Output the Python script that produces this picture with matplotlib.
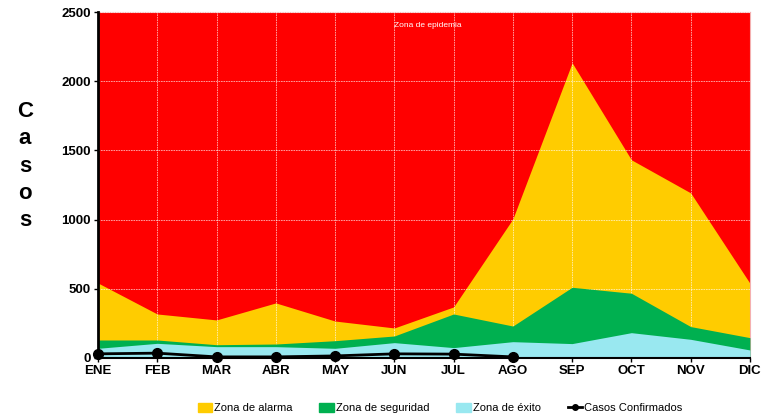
import matplotlib
matplotlib.use("Agg")
import matplotlib.pyplot as plt
from matplotlib.patches import Patch
from matplotlib.lines import Line2D
import numpy as np

meses = ["ENE", "FEB", "MAR", "ABR", "MAY", "JUN", "JUL", "AGO", "SEP", "OCT", "NOV", "DIC"]
zona_epidemia = [2500] * 12
zona_alarma = [542, 318, 275, 398, 267, 217, 369, 1005, 2133, 1432, 1193, 540]
zona_seguridad = [130, 130, 96, 101, 125, 159, 318, 231, 511, 468, 227, 147]
zona_exito = [70, 106, 82, 82, 70, 111, 75, 118, 104, 183, 135, 58]
casos_confirmados = [30, 35, 8, 8, 15, 30, 28, 8]

plt.rcParams['font.family'] = ['Liberation Sans Narrow', 'Liberation Sans', 'DejaVu Sans']

fig = plt.figure(figsize=(7.69, 4.17), dpi=100)
ax = fig.add_axes([0.1274, 0.1415, 0.8478, 0.8297])
x = np.arange(len(meses))

ax.fill_between(x, 0, zona_epidemia, color="#FF0000", lw=0, zorder=1)
ax.fill_between(x, 0, zona_alarma, color="#FFCC00", lw=0, zorder=2)
ax.fill_between(x, 0, zona_seguridad, color="#00B050", lw=0, zorder=3)
ax.fill_between(x, 0, zona_exito, color="#99E8F0", lw=0, zorder=4)
ax.plot(np.arange(len(casos_confirmados)), casos_confirmados, color="black", lw=2,
        marker="o", markersize=7, zorder=6, clip_on=False)

ax.set_xlim(0, 11)
ax.set_ylim(0, 2500)
ax.set_xticks(x)
ax.set_xticklabels(meses, fontsize=9.5, fontweight="bold")
ax.set_yticks([0, 500, 1000, 1500, 2000, 2500])
ax.set_yticklabels(["0", "500", "1000", "1500", "2000", "2500"], fontsize=9.5, fontweight="bold")
ax.grid(True, color="white", linestyle=(0, (2, 1)), lw=0.6, alpha=0.7, zorder=5)
ax.set_axisbelow(False)
for s in ["top", "right"]:
    ax.spines[s].set_color("#F4B0B0")
    ax.spines[s].set_linewidth(0.8)
ax.spines["left"].set_linewidth(2)
ax.spines["bottom"].set_linewidth(1.5)
ax.spines["left"].set_zorder(7)
ax.spines["bottom"].set_zorder(7)
ax.tick_params(axis="both", length=3, width=1, pad=2)

ax.text(0.506, 0.962, "Zona de epidemia", transform=ax.transAxes, color="white",
        fontsize=6, ha="center", va="center", zorder=8)

fig.text(25 / 769, 1 - 166 / 417, "C\na\ns\no\ns", fontsize=16, fontweight="bold",
         ha="center", va="center", linespacing=1.4, family=['Liberation Sans', 'DejaVu Sans'])

handles = [Patch(color="#FFCC00", label="Zona de alarma"),
           Patch(color="#00B050", label="Zona de seguridad"),
           Patch(color="#99E8F0", label="Zona de éxito"),
           Line2D([0], [0], color="black", lw=2, marker="o", markersize=4, label="Casos Confirmados")]
fig.legend(handles=handles, loc="center", bbox_to_anchor=(440 / 769, 1 - 408 / 417), ncol=4,
           frameon=False, fontsize=8, handlelength=1.3, handleheight=0.9, handletextpad=0.2,
           columnspacing=2.4)

fig.savefig("out.png", dpi=100)
